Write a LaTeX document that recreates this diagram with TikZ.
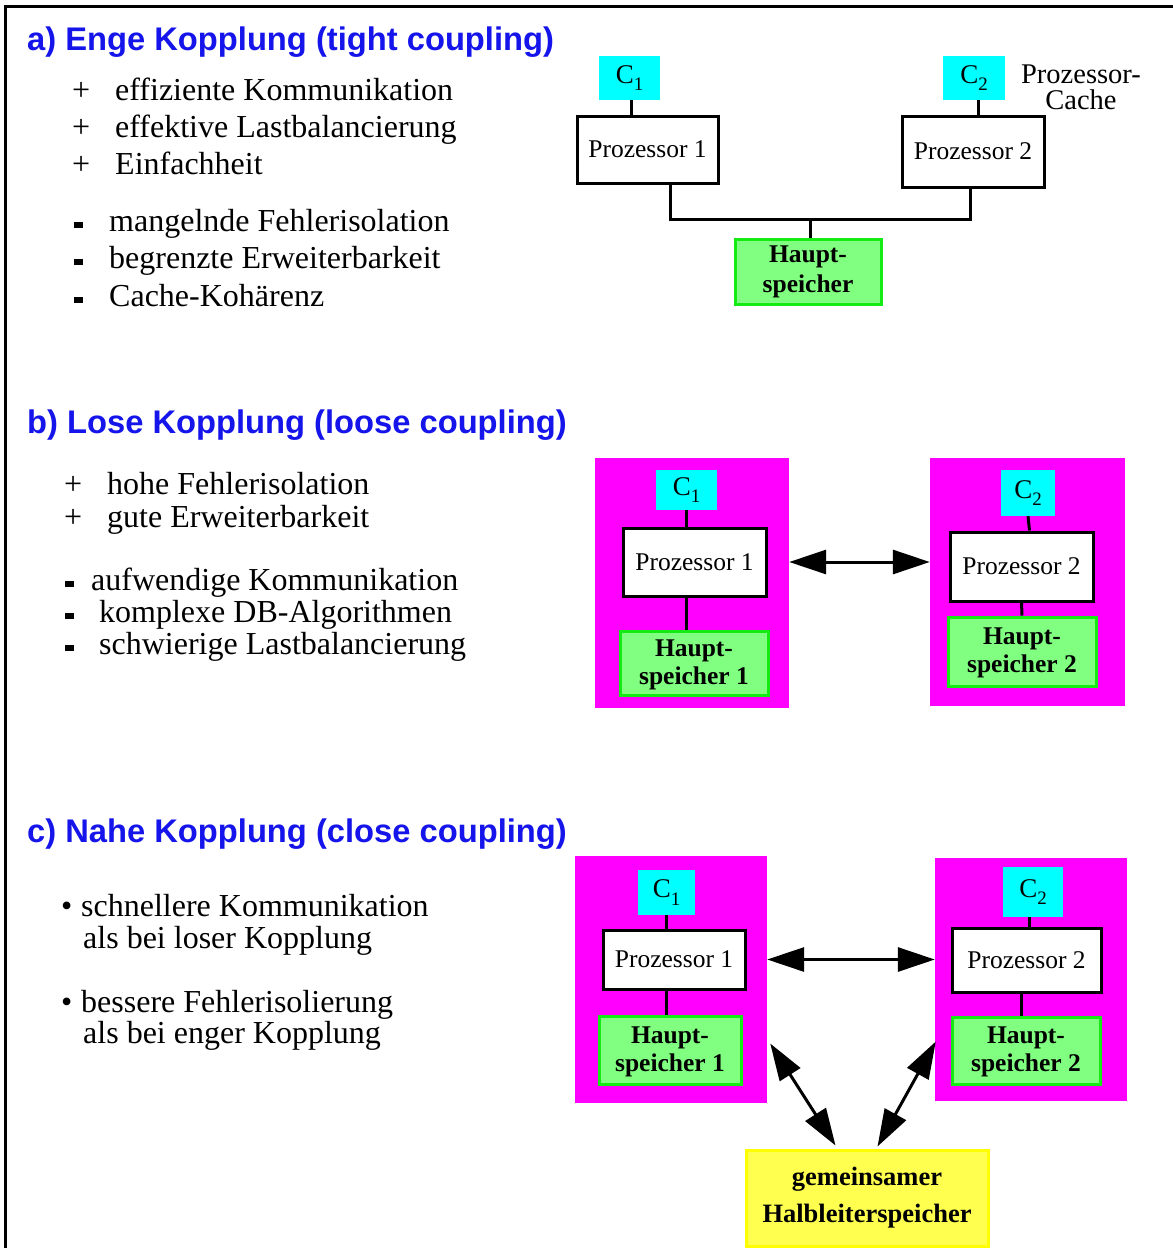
\documentclass[tikz,border=0pt]{standalone}
\usepackage{fontspec}
\setmainfont{Liberation Serif}
\newfontfamily\headfont{Liberation Sans}
\usetikzlibrary{arrows.meta,calc}
\definecolor{headblue}{RGB}{20,20,235}
\definecolor{cachecyan}{RGB}{0,255,255}
\definecolor{sitemag}{RGB}{255,0,255}
\definecolor{memfill}{RGB}{128,255,128}
\definecolor{memedge}{RGB}{20,235,20}
\definecolor{shfill}{RGB}{255,255,80}
\definecolor{shedge}{RGB}{255,255,0}
% cache label with a large, lowered index
\newcommand{\cachelabel}[1]{C\raisebox{-0.28em}{\fontsize{19}{19}\selectfont #1}}
% heavy short dash used as list marker
\newcommand{\minusmark}{\rule[3pt]{9pt}{6pt}}

\begin{document}
\begin{tikzpicture}[x=1pt,y=-1pt,
  heading/.style={anchor=base west, inner sep=0, text=headblue,
    font=\headfont\bfseries\fontsize{32.7}{33}\selectfont},
  item/.style={anchor=base west, inner sep=0, font=\fontsize{32}{38}\selectfont},
  cachebox/.style={fill=cachecyan, inner sep=0, font=\fontsize{27}{27}\selectfont},
  procbox/.style={draw, line width=3pt, fill=white, inner sep=0,
    font=\fontsize{25.5}{26}\selectfont},
  membox/.style={draw=memedge, fill=memfill, line width=3pt, inner sep=0,
    align=center, font=\bfseries\fontsize{25.5}{28}\selectfont},
  sharedbox/.style={draw=shedge, fill=shfill, line width=3pt, inner sep=0,
    align=center, font=\bfseries\fontsize{26.5}{37}\selectfont},
  site/.style={fill=sitemag, inner sep=0},
  wire/.style={line width=3pt},
  link/.style={line width=3pt,
    {Triangle[length=37pt,width=24pt]}-{Triangle[length=37pt,width=24pt]}},
]
\useasboundingbox (0,0) rectangle (1173,1248);
\fill[white] (0,0) rectangle (1173,1248);

% frame
\draw[line width=3pt] (1173,6) -- (5,6) -- (5,1248);

% ---------------- a) tight coupling ----------------
\node[heading] (ha) at (27,50) {a) Enge Kopplung (tight coupling)};
\node[item] (a1s) at (72,100) {+};
\node[item] (a1) at (115,100) {effiziente Kommunikation};
\node[item] (a2s) at (72,137) {+};
\node[item] (a2) at (115,137) {effektive Lastbalancierung};
\node[item] (a3s) at (72,174) {+};
\node[item] (a3) at (115,174) {Einfachheit};
\node[item] (a4s) at (74,231) {\minusmark};
\node[item] (a4) at (109,231) {mangelnde Fehlerisolation};
\node[item] (a5s) at (74,268) {\minusmark};
\node[item] (a5) at (109,268) {begrenzte Erweiterbarkeit};
\node[item] (a6s) at (74,306) {\minusmark};
\node[item] (a6) at (109,306) {Cache-Kohärenz};

\node[cachebox, minimum width=61, minimum height=44] (C1a) at (629.5,78) {\cachelabel{1}};
\node[cachebox, minimum width=62, minimum height=44] (C2a) at (974,78) {\cachelabel{2}};
\node[procbox, minimum width=141, minimum height=67] (P1a) at (647.5,149.5) {Prozessor 1};
\node[procbox, minimum width=142, minimum height=71] (P2a) at (973,151.5) {Prozessor 2};
\node[membox, minimum width=146, minimum height=65, font=\bfseries\fontsize{25.5}{30}\selectfont]
  (Ma) at (808,272) {Haupt-\\speicher};
\node[align=center, inner sep=0, font=\fontsize{28.5}{26}\selectfont] (pc) at (1081,87) {Prozessor-\\Cache};

\coordinate (ta) at ($(C1a.south)+(2,0)$);
\coordinate (tb) at ($(C2a.south)+(4,0)$);
\coordinate (busL) at (670,219);
\coordinate (busR) at (970,219);
\coordinate (busM) at (810,219);
\draw[wire] (ta) -- (ta |- P1a.north);
\draw[wire] (tb) -- (tb |- P2a.north);
\draw[wire] (P1a.south -| busL) -- (busL) -- (busR) -- (P2a.south -| busR);
\draw[wire] (busM) -- (Ma.north -| busM);

% ---------------- b) loose coupling ----------------
\node[heading] (hb) at (27,433) {b) Lose Kopplung (loose coupling)};
\node[item] (b1s) at (64,494) {+};
\node[item] (b1) at (107,494) {hohe Fehlerisolation};
\node[item] (b2s) at (64,527) {+};
\node[item] (b2) at (107,527) {gute Erweiterbarkeit};
\node[item] (b3s) at (65,590) {\minusmark};
\node[item] (b3) at (91,590) {aufwendige Kommunikation};
\node[item] (b4s) at (65,622) {\minusmark};
\node[item] (b4) at (99,622) {komplexe DB-Algorithmen};
\node[item] (b5s) at (65,654) {\minusmark};
\node[item] (b5) at (99,654) {schwierige Lastbalancierung};

\node[site, minimum width=194, minimum height=250] (S1b) at (692,583) {};
\node[site, minimum width=195, minimum height=248] (S2b) at (1027.5,582) {};
\node[cachebox, minimum width=61, minimum height=40] (C1b) at (686.5,490) {\cachelabel{1}};
\node[procbox, minimum width=143, minimum height=68] (P1b) at (694.5,562) {Prozessor 1};
\node[membox, minimum width=148, minimum height=64] (M1b) at (694,663) {\strut Haupt-\\speicher 1};
\node[cachebox, minimum width=54, minimum height=46] (C2b) at (1028,493) {\cachelabel{2}};
\node[procbox, minimum width=143, minimum height=69] (P2b) at (1021.5,566.5) {Prozessor 2\hspace{10pt}};
\node[membox, minimum width=148, minimum height=69] (M2b) at (1022,651.5) {\strut Haupt-\\speicher 2};

\coordinate (tc) at ($(P2b.north)+(8,0)$);
\draw[wire] (C1b.south) -- (C1b.south |- P1b.north);
\draw[wire] (P1b.south -| C1b.south) -- (M1b.north -| C1b.south);
\draw[wire] (C2b.south) -- (tc);
\draw[wire] (P2b.south) -- (M2b.north);
\draw[link] (S1b.east |- P1b.east) -- (S2b.west |- P1b.east);

% ---------------- c) close coupling ----------------
\node[heading] (hc) at (27,842) {c) Nahe Kopplung (close coupling)};
\node[item] (c1s) at (61,916) {\textbullet};
\node[item] (c1) at (81,916) {schnellere Kommunikation};
\node[item] (c1b) at (83,948) {als bei loser Kopplung};
\node[item] (c2s) at (61,1012) {\textbullet};
\node[item] (c2) at (81,1012) {bessere Fehlerisolierung};
\node[item] (c2b) at (83,1043) {als bei enger Kopplung};

\node[site, minimum width=192, minimum height=247] (S1c) at (671,979.5) {};
\node[site, minimum width=192, minimum height=243] (S2c) at (1031,979.5) {};
\node[cachebox, minimum width=57, minimum height=45] (C1c) at (666.5,892.5) {\cachelabel{1}};
\node[procbox, minimum width=142, minimum height=59] (P1c) at (674,959.5) {Prozessor 1};
\node[membox, minimum width=142, minimum height=68] (M1c) at (670,1050) {\strut Haupt-\\speicher 1};
\node[cachebox, minimum width=60, minimum height=50] (C2c) at (1033,892) {\cachelabel{2}};
\node[procbox, minimum width=149, minimum height=64] (P2c) at (1026.5,960) {Prozessor 2};
\node[membox, minimum width=148, minimum height=67] (M2c) at (1026,1050.5) {\strut Haupt-\\speicher 2};
\node[sharedbox, minimum width=242, minimum height=96] (SH) at (867,1198) {gemeinsamer\\Halbleiterspeicher};

\coordinate (td) at ($(C2c.south)+(-4,0)$);
\coordinate (te) at ($(M2c.north)+(-5,0)$);
\draw[wire] (C1c.south) -- (C1c.south |- P1c.north);
\draw[wire] (P1c.south -| C1c.south) -- (M1c.north -| C1c.south);
\draw[wire] (td) -- (td |- P2c.north);
\draw[wire] (te |- P2c.south) -- (te);
\draw[link] (S1c.east |- P1c.east) -- (S2c.west |- P1c.east);
\coordinate (l1) at ($(S1c.east)+(3,64)$);
\coordinate (l2) at ($(SH.north west)+(91,-3)$);
\coordinate (r1) at ($(S2c.west)+(1,62)$);
\coordinate (r2) at ($(SH.north west)+(133,-2)$);
\draw[link] (l1) -- (l2);
\draw[link] (r1) -- (r2);
\end{tikzpicture}
\end{document}
